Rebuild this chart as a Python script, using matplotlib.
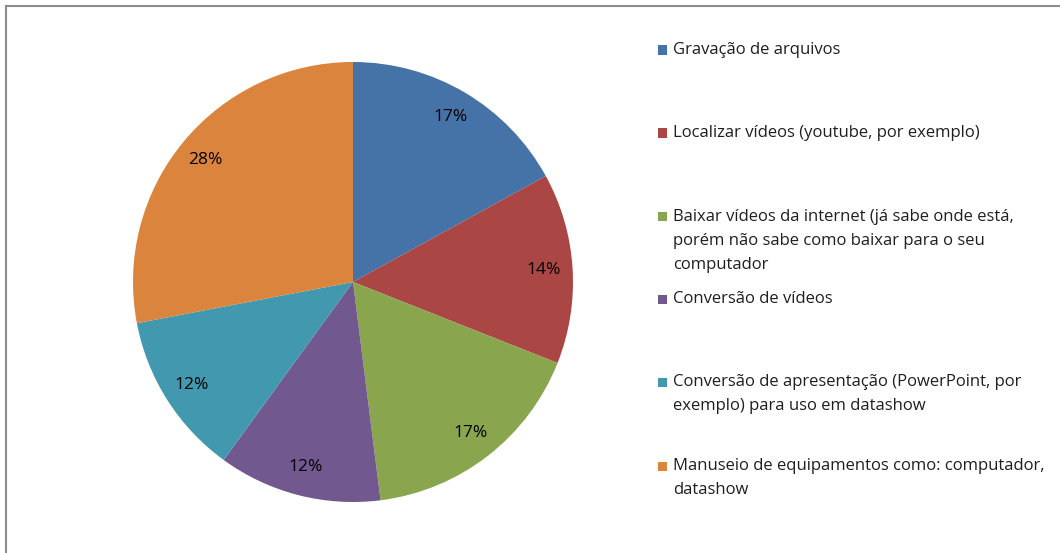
import matplotlib.pyplot as plt
from matplotlib.patches import Rectangle
from matplotlib.lines import Line2D

labels = [
    'Gravação de arquivos',
    'Localizar vídeos (youtube, por exemplo)',
    'Baixar vídeos da internet (já sabe onde está,\nporém não sabe como baixar para o seu\ncomputador',
    'Conversão de vídeos',
    'Conversão de apresentação (PowerPoint, por\nexemplo) para uso em datashow',
    'Manuseio de equipamentos como: computador,\ndatashow',
]
values = [17, 14, 17, 12, 12, 28]
colors = ['#4572A7', '#AA4643', '#89A54E', '#71588F', '#4198AF', '#DB843D']

W, H = 1060, 553
fig = plt.figure(figsize=(W / 100, H / 100), dpi=100)

# pie: centre (353, 282) px, radius 220 px
ax = fig.add_axes([133 / W, 1 - 502 / H, 440 / W, 440 / H])
ax.pie(values, colors=colors, startangle=90, counterclock=False,
       autopct='%1.0f%%', pctdistance=0.87, radius=1,
       textprops={'fontsize': 12.5, 'family': 'Open Sans', 'color': 'black'},
       wedgeprops={'linewidth': 0})
ax.set_xlim(-1, 1)
ax.set_ylim(-1, 1)
ax.set_aspect('equal')

# legend drawn by hand
first_line_y = [50, 133, 217, 299, 382, 466]
pitch = 24
for lab, col, y0 in zip(labels, colors, first_line_y):
    fig.patches.append(Rectangle((658 / W, 1 - (y0 + 4.5) / H), 9 / W, 9 / H,
                                 transform=fig.transFigure, facecolor=col,
                                 edgecolor='none'))
    for i, line in enumerate(lab.split('\n')):
        fig.text(673 / W, 1 - (y0 + i * pitch) / H, line, fontsize=12,
                 family='Open Sans', color='#1f1f1f', va='center', ha='left')

# outer frame (only left and top edges visible)
fig.lines.append(Line2D([5.5 / W, 5.5 / W], [0, 1 - 5.5 / H],
                        transform=fig.transFigure, color='#8c8c8c', lw=1.5))
fig.lines.append(Line2D([5.5 / W, 1], [1 - 5.5 / H, 1 - 5.5 / H],
                        transform=fig.transFigure, color='#8c8c8c', lw=1.5))

fig.savefig('out.png', dpi=100)
